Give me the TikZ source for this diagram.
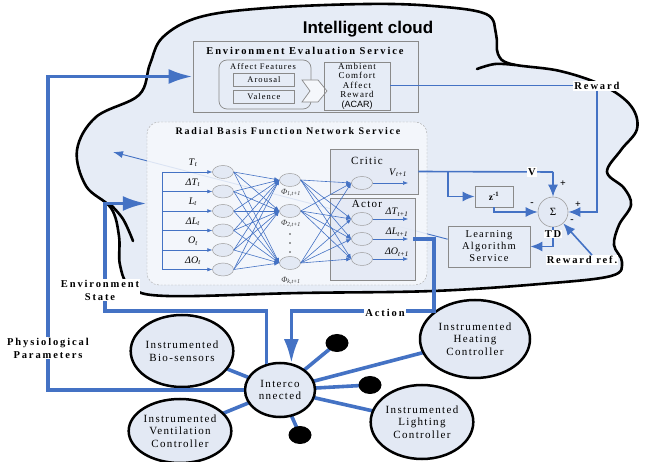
\documentclass[tikz,border=0pt]{standalone}
\usepackage{fontspec}
\setmainfont{Liberation Serif}
\newfontfamily\sansf{Liberation Sans}
\newfontfamily\rs[LetterSpace=12]{Liberation Serif}
\newfontfamily\bs[LetterSpace=18]{Liberation Serif}
\usetikzlibrary{shapes.geometric,arrows.meta}
\definecolor{bl}{HTML}{4472C4}
\definecolor{cloudfill}{HTML}{E6ECF6}
\definecolor{nodefill}{HTML}{E3E9F4}
\definecolor{rbffill}{HTML}{F6F8FC}
\definecolor{boxgray}{HTML}{8A8A8A}
\newcommand\sub[2]{\textit{#1}\textsubscript{\textit{#2}}}
\begin{document}
\begin{tikzpicture}[x=1pt,y=-1pt,
 cloudline/.style={draw=black, line width=2.6pt, line join=round, line cap=round},
 netnode/.style={ellipse, draw=gray!75, fill=nodefill, line width=0.5pt, minimum width=21pt, minimum height=13pt, inner sep=0pt},
 netarrow/.style={draw=bl, line width=0.6pt, -{Latex[length=5pt,width=4pt]}},
 ctrlline/.style={draw=bl, line width=1.6pt},
 ctrlarrow/.style={ctrlline, -{Latex[length=12pt,width=10pt]}},
 bigline/.style={draw=bl, line width=3.5pt},
 bigarrow/.style={bigline, -{Latex[length=24pt,width=15pt]}},
 spoke/.style={draw=bl, line width=3.6pt},
 graybox/.style={draw=boxgray, line width=0.7pt, inner sep=0pt},
 devnode/.style={ellipse, draw=black, line width=2.5pt, fill=nodefill, align=center, inner sep=0pt, font=\rs\fontsize{11}{12.5}\selectfont},
 blackdot/.style={ellipse, fill=black, minimum width=23pt, minimum height=18pt, inner sep=0pt},
 lbl/.style={fill=white, inner sep=1pt, align=center, font=\bs\bfseries\fontsize{10.5}{13}\selectfont},
 inlab/.style={inner sep=0pt, font=\fontsize{10}{11}\selectfont},
 philab/.style={inner sep=0pt, font=\fontsize{8}{9}\selectfont, text=black!80},
 sgn/.style={inner sep=0pt, font=\bfseries\fontsize{10}{11}\selectfont}
]
\fill[white] (0,0) rectangle (654,462);
\useasboundingbox (0,0) rectangle (654,462);

% cloud
\path[cloudline, fill=cloudfill] plot[smooth cycle, tension=0.6] coordinates {
(150,64) (163,37) (200,17) (267,8) (367,4) (433,6) (486,14) (496,34) (498,54) (511,64)
(560,71) (604,86) (631,106) (637,129) (621,150) (607,172) (624,188) (631,205) (619,225)
(614,245) (622,262) (611,276) (540,284) (433,291) (300,293) (167,296) (131,287) (120,265)
(119,236) (111,208) (86,186) (77,150) (96,117) (139,95)};
\draw[cloudline] plot[smooth, tension=0.6] coordinates {(477,69) (495,64) (515,65)};
\draw[cloudline] plot[smooth, tension=0.6] coordinates {(109,203) (123,219) (133,241)};

\node[font=\sansf\bfseries\fontsize{17}{20}\selectfont, inner sep=0pt] (cloudt) at (368,29) {Intelligent cloud};

% Environment evaluation service
\node[graybox, minimum width=225pt, minimum height=71pt] (env) at (305.5,76.5) {};
\node[inner sep=0pt, font=\bs\bfseries\fontsize{10.5}{12}\selectfont] (envt) at (305,51) {Environment Evaluation Service};
\node[graybox, rounded corners=8pt, minimum width=92pt, minimum height=49pt] (af) at (265,84.5) {};
\node[inner sep=0pt, font=\rs\fontsize{8.5}{10}\selectfont] (aft) at (263,67) {Affect Features};
\node[graybox, minimum width=61pt, minimum height=13pt, font=\rs\fontsize{8.5}{10}\selectfont] (arou) at (264,79.5) {Arousal};
\node[graybox, minimum width=61pt, minimum height=13pt, font=\rs\fontsize{8.5}{10}\selectfont] (vale) at (264,97) {Valence};
\draw[boxgray, line width=0.7pt, fill=white!60!cloudfill] (302,80) -- (318,80) -- (327,91) -- (318,102) -- (302,102) -- (310,91) -- cycle;
\node[graybox, minimum width=66pt, minimum height=48pt, align=center, font=\rs\fontsize{9}{9.5}\selectfont] (acar) at (357,86) {Ambient\\Comfort\\Affect\\Reward\\{\sansf (ACAR)}};

% learning algorithm box
\node[graybox, minimum width=82pt, minimum height=41pt, align=center, font=\rs\fontsize{10.5}{12}\selectfont] (la) at (489,246.5) {Learning\\Algorithm\\Service};

% faint feedback line
\coordinate (fl) at (113,152);
\draw[draw=bl, line width=0.9pt, -{Latex[length=10pt,width=7pt]}] (la.170) -- (fl);

% RBF network service
\node[draw=gray!70, dash pattern=on 2pt off 1.5pt, rounded corners=12pt, fill=rbffill, fill opacity=0.85, minimum width=280pt, minimum height=163pt] (rbf) at (287,203.5) {};
\node[inner sep=0pt, font=\bs\bfseries\fontsize{10}{12}\selectfont] (rbft) at (288,131) {Radial Basis Function Network Service};

\node[graybox, fill=nodefill, fill opacity=0.85, minimum width=88pt, minimum height=45pt] (critic) at (374,171.5) {};
\node[graybox, fill=nodefill, fill opacity=0.85, minimum width=85pt, minimum height=82pt] (actor) at (372.5,239) {};
\node[inner sep=0pt, font=\rs\fontsize{11}{12}\selectfont] (critict) at (367,161) {Critic};
\node[inner sep=0pt, font=\rs\fontsize{11}{12}\selectfont] (actort) at (367,204) {Actor};

% network nodes
\foreach \i/\y in {1/172,2/191.5,3/211,4/230.5,5/250,6/269.5}{
  \coordinate (b\i) at (162,\y);
  \node[netnode] (in\i) at (223,\y) {};
}
\node[netnode] (h1) at (290,180) {};
\node[netnode] (h2) at (290,211) {};
\node[netnode] (h3) at (290,263) {};
\node[netnode] (c1) at (362,183) {};
\node[netnode] (a1) at (362,219) {};
\node[netnode] (a2) at (362,239) {};
\node[netnode] (a3) at (362,259) {};

\draw[draw=bl, line width=0.6pt] (b1) -- (b6);
\foreach \i in {1,...,6}{
  \draw[netarrow] (b\i) -- (in\i);
  \foreach \j in {1,2,3}{ \draw[netarrow] (in\i.east) -- (h\j.west); }
}
\foreach \j in {1,2,3}{
  \foreach \k in {c1,a1,a2,a3}{ \draw[netarrow] (h\j.east) -- (\k.west); }
}
\coordinate (co) at (408,183);
\coordinate (a1o) at (408,219);
\coordinate (a2o) at (408,239);
\coordinate (a3o) at (408,259);
\draw[netarrow] (c1) -- (co);
\draw[netarrow] (a1) -- (a1o);
\draw[netarrow] (a2) -- (a2o);
\draw[netarrow] (a3) -- (a3o);

\node[inlab] (l1) at (193,163) {\sub{T}{t}};
\node[inlab] (l2) at (193,182.5) {\sub{ΔT}{t}};
\node[inlab] (l3) at (193,202) {\sub{L}{t}};
\node[inlab] (l4) at (193,221.5) {\sub{ΔL}{t}};
\node[inlab] (l5) at (193,241) {\sub{O}{t}};
\node[inlab] (l6) at (193,260.5) {\sub{ΔO}{t}};
\node[philab] (p1) at (291,193) {\sub{Φ}{1,t+1}};
\node[philab] (p2) at (291,224) {\sub{Φ}{2,t+1}};
\node[philab] (p3) at (291,281) {\sub{Φ}{k,t+1}};
\fill[black!75] (290,234) circle (0.8pt) (290,243) circle (0.8pt) (290,252) circle (0.8pt);
\node[inlab] (lv) at (398,173) {\sub{V}{t+1}};
\node[inlab] (lo1) at (397,212) {\sub{ΔT}{t+1}};
\node[inlab] (lo2) at (397,232) {\sub{ΔL}{t+1}};
\node[inlab] (lo3) at (397,252) {\sub{ΔO}{t+1}};

% controller
\node[graybox, minimum width=38pt, minimum height=21pt, font=\bfseries\fontsize{9.5}{10}\selectfont] (zb) at (494,196.5) {z\textsuperscript{-1}};
\node[circle, draw=gray!75, line width=0.6pt, fill=nodefill, minimum size=30pt, inner sep=0pt, font=\fontsize{11}{12}\selectfont] (sig) at (553,212) {Σ};
\node[lbl] (rew) at (597,86) {Reward};
\node[lbl] (rref) at (582,260) {Reward ref.};

\coordinate (vc) at (553,172);
\coordinate (vb) at (448,172);
\draw[ctrlline] (critic.east) -- (vc);
\draw[ctrlarrow] (vc) -- (sig.north);
\draw[ctrlarrow] (vb) |- (zb.west);
\draw[ctrlarrow] (zb.south) |- (sig.west);
\draw[draw=bl, line width=1pt] (acar.east) -- (rew.west);
\draw[ctrlarrow] (rew.south) |- (sig.east);
\draw[ctrlarrow] (sig.south) |- (la.east);
\draw[ctrlarrow] ([xshift=10pt]rref.north) -- (sig);
\node[lbl] (vl) at (532,172) {V};
\node[lbl] (tdl) at (553,234) {TD};
\node[sgn] (s1) at (563,184) {+};
\node[sgn] (s2) at (578,205) {+};
\node[sgn] (s3) at (572,221) {-};
\node[sgn] (s4) at (532,204) {-};

% devices
\coordinate (icc) at (280,390);
\coordinate (bioc) at (182,351);
\coordinate (ventc) at (180,431);
\coordinate (heatc) at (475,339);
\coordinate (lightc) at (422,422);
\coordinate (d1c) at (337,343);
\coordinate (d2c) at (370,385);
\coordinate (d3c) at (300,435);
\foreach \t in {bioc,ventc,heatc,lightc,d1c,d2c,d3c}{ \draw[spoke] (icc) -- (\t); }
\node[devnode, minimum width=97pt, minimum height=72pt] (bio) at (bioc) {Instrumented\\Bio-sensors};
\node[devnode, minimum width=100pt, minimum height=64pt] (vent) at (ventc) {Instrumented\\Ventilation\\Controller};
\node[devnode, minimum width=110pt, minimum height=78pt] (heat) at (heatc) {Instrumented\\Heating\\Controller};
\node[devnode, minimum width=101pt, minimum height=74pt] (light) at (lightc) {Instrumented\\Lighting\\Controller};
\node[blackdot] (d1) at (d1c) {};
\node[blackdot] (d2) at (d2c) {};
\node[blackdot] (d3) at (d3c) {};
\node[devnode, minimum width=70pt, minimum height=54pt] (ic) at (icc) {Interco\\nnected};

% big arrows
\coordinate (pc) at (48,390);
\coordinate (esc) at (105,311);
\coordinate (a2t) at (413,239);
\coordinate (acc) at (434,311);
\draw[bigarrow] (ic.west) -- (pc) |- (env.west);
\draw[bigarrow] (ic.117) |- (esc) |- (rbf.west);
\draw[bigarrow] (a2t) -| (acc) -| (ic.67);
\node[lbl] (esl) at (100,290) {Environment\\State};
\node[lbl] (ppl) at (48,348) {Physiological\\Parameters};
\node[lbl] (actl) at (385,313) {Action};
\end{tikzpicture}
\end{document}
